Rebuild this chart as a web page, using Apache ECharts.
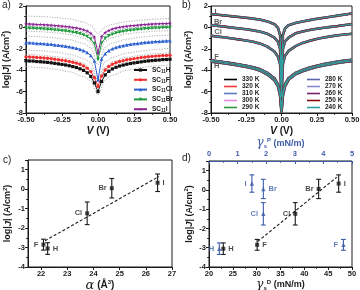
<!DOCTYPE html>
<html>
<head>
<meta charset="utf-8">
<script src="https://cdn.jsdelivr.net/npm/echarts@6/dist/echarts.min.js"></script>
<style>
html, body { margin: 0; padding: 0; background: #fff; }
#main { width: 360px; height: 290px; }
</style>
</head>
<body>
<div id="main"></div>
<script>
// a) mean log|J| of the SC11X junctions against bias
var biasA = [-0.5, -0.475, -0.45, -0.425, -0.4, -0.375, -0.35, -0.325, -0.3, -0.275, -0.25, -0.225, -0.2, -0.175, -0.15, -0.125, -0.1, -0.075, -0.05, -0.025, 0,
  0.025, 0.05, 0.075, 0.1, 0.125, 0.15, 0.175, 0.2, 0.225, 0.25, 0.275, 0.3, 0.325, 0.35, 0.375, 0.4, 0.425, 0.45, 0.475, 0.5];
var jA_H = [-3.12, -3.14, -3.15, -3.19, -3.21, -3.24, -3.27, -3.31, -3.36, -3.41, -3.46, -3.51, -3.58, -3.66, -3.75, -3.87, -4.02, -4.24, -4.58, -5.19, -6.0,
  -5.05, -4.44, -4.10, -3.88, -3.73, -3.61, -3.52, -3.44, -3.37, -3.32, -3.27, -3.22, -3.17, -3.13, -3.10, -3.07, -3.05, -3.01, -3.00, -2.98];
var jA_F = [-2.75, -2.77, -2.78, -2.81, -2.83, -2.86, -2.89, -2.93, -2.97, -3.02, -3.07, -3.12, -3.18, -3.26, -3.34, -3.45, -3.60, -3.81, -4.13, -4.70, -5.5,
  -4.55, -3.98, -3.66, -3.45, -3.30, -3.19, -3.11, -3.03, -2.97, -2.92, -2.87, -2.82, -2.78, -2.74, -2.71, -2.68, -2.66, -2.63, -2.62, -2.60];
var jA_Cl = [-1.43, -1.44, -1.46, -1.49, -1.50, -1.53, -1.56, -1.58, -1.63, -1.67, -1.71, -1.75, -1.81, -1.88, -1.95, -2.05, -2.17, -2.35, -2.63, -3.14, -4.9,
  -2.96, -2.45, -2.17, -1.99, -1.87, -1.77, -1.70, -1.63, -1.57, -1.53, -1.49, -1.45, -1.40, -1.38, -1.35, -1.32, -1.31, -1.28, -1.26, -1.25];
var jA_Br = [-0.07, -0.08, -0.09, -0.12, -0.13, -0.15, -0.18, -0.20, -0.24, -0.27, -0.31, -0.35, -0.39, -0.45, -0.51, -0.60, -0.71, -0.86, -1.10, -1.53, -3.0,
  -1.46, -1.03, -0.79, -0.64, -0.53, -0.44, -0.38, -0.32, -0.28, -0.24, -0.20, -0.17, -0.13, -0.11, -0.08, -0.06, -0.05, -0.02, -0.01, 0.0];
var jA_I = [0.32, 0.31, 0.30, 0.28, 0.27, 0.25, 0.23, 0.21, 0.18, 0.15, 0.12, 0.09, 0.05, 0.00, -0.05, -0.12, -0.21, -0.34, -0.54, -0.90, -2.4,
  -0.84, -0.48, -0.28, -0.15, -0.06, 0.01, 0.06, 0.11, 0.15, 0.18, 0.21, 0.24, 0.27, 0.29, 0.31, 0.33, 0.34, 0.36, 0.37, 0.38];

// a) dotted spread lines
var biasSd = [-0.5, -0.4, -0.3, -0.2, -0.1, -0.05, 0, 0.05, 0.1, 0.2, 0.3, 0.4, 0.5];
var sdLines = [
  [1.08, 1.02, 0.93, 0.8, 0.5, 0.2, -0.6, 0.05, 0.3, 0.55, 0.68, 0.78, 0.85],
  [0.12, 0.07, 0.0, -0.12, -0.42, -0.75, -1.8, -0.7, -0.38, -0.1, 0.03, 0.1, 0.15],
  [-0.34, -0.4, -0.5, -0.65, -1.0, -1.35, -2.6, -1.3, -0.95, -0.6, -0.45, -0.35, -0.3],
  [-0.8, -0.87, -0.98, -1.15, -1.5, -1.9, -3.5, -1.85, -1.45, -1.1, -0.9, -0.78, -0.7],
  [-2.1, -2.18, -2.3, -2.5, -2.9, -3.3, -5.0, -3.2, -2.8, -2.4, -2.2, -2.05, -1.95],
  [-2.5, -2.58, -2.72, -2.92, -3.35, -3.85, -5.0, -3.7, -3.2, -2.8, -2.6, -2.45, -2.35],
  [-3.65, -3.75, -3.9, -4.15, -4.6, -5.0, -6.3, -4.9, -4.45, -4.0, -3.75, -3.6, -3.5]
];

// b) log|J| at each temperature (curves overlap within a group)
var biasB = [-0.5, -0.45, -0.4, -0.35, -0.3, -0.25, -0.2, -0.15, -0.1, -0.05, -0.025, -0.01, 0, 0.01, 0.025, 0.05, 0.1, 0.15, 0.2, 0.25, 0.3, 0.35, 0.4, 0.45, 0.5];
var jB_I = [1.25, 1.18, 1.11, 1.04, 0.97, 0.9, 0.82, 0.72, 0.56, 0.3, -0.05, -0.7, -4.5, -0.7, -0.1, 0.2, 0.42, 0.56, 0.68, 0.8, 0.9, 1.0, 1.1, 1.2, 1.3];
var jB_Br = [0.22, 0.14, 0.06, -0.02, -0.1, -0.18, -0.28, -0.4, -0.6, -0.95, -1.35, -2.0, -5.5, -2.0, -1.3, -0.95, -0.55, -0.38, -0.24, -0.13, -0.04, 0.05, 0.13, 0.22, 0.31];
var jB_Cl = [-0.78, -0.86, -0.94, -1.03, -1.13, -1.23, -1.35, -1.52, -1.8, -2.25, -2.75, -3.4, -6.5, -3.4, -2.65, -2.2, -1.75, -1.45, -1.25, -1.08, -0.95, -0.84, -0.74, -0.66, -0.6];
var jB_F = [-3.08, -3.16, -3.25, -3.35, -3.46, -3.58, -3.72, -3.92, -4.25, -4.75, -5.3, -6.1, -7.8, -6.1, -5.3, -4.75, -4.25, -3.97, -3.75, -3.58, -3.43, -3.31, -3.2, -3.1, -3.02];
var jB_H = [-3.2, -3.28, -3.37, -3.47, -3.58, -3.7, -3.85, -4.05, -4.4, -4.95, -5.5, -6.4, -8.0, -6.4, -5.5, -4.9, -4.38, -4.1, -3.88, -3.7, -3.55, -3.43, -3.32, -3.22, -3.14];
var temps = ['330 K', '320 K', '310 K', '300 K', '290 K', '280 K', '270 K', '260 K', '250 K', '240 K'];
var groupTags = ['I', 'Br', 'Cl', 'F', 'H'];
var tagBias = [-0.468, -0.45, -0.45, -0.46, -0.46];
var tagLogJ = [1.42, 0.47, -0.44, -2.78, -3.62];

// c), d) log|J| against polarizability and surface energy components
var halides = ['H', 'F', 'Cl', 'Br', 'I'];
var alpha = [22.25, 22.09, 23.76, 24.7, 26.45];
var logJmean = [-3.05, -2.85, -1.24, 0.05, 0.33];
var logJerr = [0.3, 0.28, 0.58, 0.5, 0.45];
var gammaD = [23.0, 30.1, 38.1, 43.0, 47.2];
var gammaP = [0.36, 4.7, 1.9, 1.9, 1.5];
var fitC = [[22.15, -2.65], [26.5, 0.65]];
var fitD = [[30.2, -2.68], [46.8, 0.66]];

var ink = '#1a1a1a';
var blue = '#3d5ca8';
var font = 'Liberation Sans, Arial, sans-serif';

function pairs(xs, ys) {
  return xs.map(function (x, i) { return [x, ys[i]]; });
}
function txt(size, extra) {
  var s = { fontFamily: font, fontWeight: 'bold', fontSize: size, color: ink };
  for (var k in extra) s[k] = extra[k];
  return s;
}
function nameStyle(color, size) {
  size = size || 9;
  return txt(size, {
    color: color, lineHeight: size + 3,
    rich: {
      i: txt(size + 0.5, { color: color, fontStyle: 'italic' }),
      a: txt(size + 3, { color: color, fontStyle: 'italic', fontFamily: 'DejaVu Serif, serif', fontWeight: 'normal' }),
      sup: txt(6, { color: color, lineHeight: 6, verticalAlign: 'top' }),
      sub: txt(6, { color: color, lineHeight: 6, verticalAlign: 'bottom' })
    }
  });
}
function axis(grid, opts, color) {
  color = color || ink;
  var a = {
    type: 'value', gridIndex: grid, splitLine: { show: false },
    axisLine: { show: true, onZero: false, lineStyle: { color: color, width: 1 } },
    axisTick: { show: true, length: 3, lineStyle: { color: color } },
    minorTick: { show: true, splitNumber: 2, length: 1.8, lineStyle: { color: color } },
    axisLabel: txt(7.5, { color: color, margin: 3 }),
    nameLocation: 'middle',
    nameTextStyle: nameStyle(color, opts.nameSize)
  };
  for (var k in opts) {
    if (k === 'nameSize') continue;
    if (a[k] && typeof a[k] === 'object' && !Array.isArray(a[k])) {
      for (var j in opts[k]) a[k][j] = opts[k][j];
    } else a[k] = opts[k];
  }
  return a;
}

var grids = [
  { left: 26, top: 6, width: 144, height: 107 },
  { left: 211, top: 6, width: 141, height: 107 },
  { left: 28, top: 160, width: 144, height: 107 },
  { left: 209, top: 161, width: 143, height: 106 }
].map(function (g) {
  g.show = true; g.borderColor = ink; g.borderWidth = 1; g.backgroundColor = 'transparent';
  g.containLabel = false; g.outerBoundsMode = 'none';
  return g;
});

var logJName = 'log|{i|J}| (A/cm{sup|2})';
var biasLabel = { formatter: function (v) { return v.toFixed(2); } };

var xAxes = [
  axis(0, { min: -0.5, max: 0.5, interval: 0.25, axisLabel: biasLabel, name: '{i|V} (V)', nameGap: 9, nameSize: 10 }),
  axis(1, { min: -0.5, max: 0.5, interval: 0.25, axisLabel: biasLabel, name: '{i|V} (V)', nameGap: 9, nameSize: 10 }),
  axis(2, { min: 21.5, max: 27, axisLabel: { customValues: [22, 23, 24, 25, 26, 27] },
    axisTick: { customValues: [22, 23, 24, 25, 26, 27] }, minorTick: { show: false },
    name: '{a|α} (Å{sup|3})', nameGap: 7, nameSize: 10 }),
  axis(3, { min: 20, max: 50, interval: 5, name: '{a|γ}{sub|s}{sup|D} (mN/m)', nameGap: 7 }),
  axis(3, { position: 'top', min: 0, max: 5, interval: 1, name: '{a|γ}{sub|s}{sup|P} (mN/m)', nameGap: 8,
    axisTick: { inside: true }, minorTick: { show: true } }, blue)
];
var yAxes = [
  axis(0, { min: -8, max: 2, interval: 2, name: logJName, nameGap: 12 }),
  axis(1, { min: -8, max: 2, interval: 2, name: logJName, nameGap: 16 }),
  axis(2, { min: -4, max: 1.5, interval: 1, axisLabel: { showMaxLabel: false }, name: logJName, nameGap: 14 }),
  axis(3, { min: -4, max: 1.5, interval: 1, axisLabel: { showMaxLabel: false }, name: logJName, nameGap: 11 })
];

var series = [];

// a) spread lines under the means
sdLines.forEach(function (ys) {
  series.push({
    type: 'line', xAxisIndex: 0, yAxisIndex: 0, data: pairs(biasSd, ys), symbol: 'none',
    smooth: 0.3, smoothMonotone: 'x', silent: true,
    lineStyle: { color: '#9a9a9a', width: 0.8, type: [1.2, 1.4] }
  });
});
var starPath = 'path://M5,0 L6.2,3.6 L10,3.6 L7,5.9 L8.1,9.5 L5,7.3 L1.9,9.5 L3,5.9 L0,3.6 L3.8,3.6 Z';
[
  { name: 'SC11H', ys: jA_H, color: '#111111', symbol: 'rect', size: 3.2 },
  { name: 'SC11F', ys: jA_F, color: '#f03030', symbol: 'circle', size: 3.4 },
  { name: 'SC11Cl', ys: jA_Cl, color: '#2c5fd0', symbol: 'triangle', size: 3.6 },
  { name: 'SC11Br', ys: jA_Br, color: '#1f9a3c', symbol: 'triangle', rotate: 180, size: 3.6 },
  { name: 'SC11I', ys: jA_I, color: '#8a2494', symbol: starPath, size: 4 }
].forEach(function (s) {
  series.push({
    type: 'line', name: s.name, xAxisIndex: 0, yAxisIndex: 0, data: pairs(biasA, s.ys),
    symbol: s.symbol, symbolSize: s.size, symbolRotate: s.rotate || 0, showAllSymbol: true,
    lineStyle: { color: s.color, width: 1 }, itemStyle: { color: s.color }
  });
});

// b) one line per temperature and halide group; later temperatures sit on top
var tempColors = ['#000000', '#f03a3a', '#5b7cc0', '#e58ae0', '#2e9a3e', '#5a64ae', '#8a8ad0', '#74246e', '#8a1010', '#2f9fa2'];
var tempWidths = [2.6, 1.8, 1.8, 1.8, 1.8, 1.8, 1.8, 1.8, 1.8, 1.2];
var groupsB = [jB_I, jB_Br, jB_Cl, jB_F, jB_H];
temps.forEach(function (t, k) {
  groupsB.forEach(function (ys) {
    series.push({
      type: 'line', name: t, xAxisIndex: 1, yAxisIndex: 1, data: pairs(biasB, ys), symbol: 'none',
      lineStyle: { color: tempColors[k], width: tempWidths[k] }, itemStyle: { color: tempColors[k] }
    });
  });
});
series.push({
  type: 'scatter', xAxisIndex: 1, yAxisIndex: 1, symbolSize: 0, silent: true,
  data: groupTags.map(function (n, i) { return { name: n, value: [tagBias[i], tagLogJ[i]] }; }),
  label: { show: true, position: 'inside', formatter: '{b}', fontFamily: font, fontWeight: 'bold', fontSize: 7.5, color: '#333' }
});

// c), d) error bars, means and dashed fits
function errorBars(color) {
  return function (params, api) {
    var x = api.value(0);
    var lo = api.coord([x, api.value(1)]);
    var hi = api.coord([x, api.value(2)]);
    var cap = 2.4;
    var st = { stroke: color, lineWidth: 1.1 };
    return {
      type: 'group', children: [
        { type: 'line', shape: { x1: lo[0], y1: lo[1], x2: hi[0], y2: hi[1] }, style: st },
        { type: 'line', shape: { x1: lo[0] - cap, y1: lo[1], x2: lo[0] + cap, y2: lo[1] }, style: st },
        { type: 'line', shape: { x1: hi[0] - cap, y1: hi[1], x2: hi[0] + cap, y2: hi[1] }, style: st }
      ]
    };
  };
}
function barData(xs) {
  return xs.map(function (x, i) { return [x, logJmean[i] - logJerr[i], logJmean[i] + logJerr[i]]; });
}
function pointData(xs, sides) {
  return xs.map(function (x, i) {
    return { name: halides[i], value: [x, logJmean[i]], label: { position: sides[i] } };
  });
}
function pointSeries(xi, yi, xs, sides, color, symbol, size) {
  return {
    type: 'scatter', xAxisIndex: xi, yAxisIndex: yi, data: pointData(xs, sides),
    symbol: symbol, symbolSize: size, itemStyle: { color: color },
    label: { show: true, formatter: '{b}', distance: 3, fontFamily: font, fontWeight: 'bold', fontSize: 7.5, color: color }
  };
}
function fitSeries(xi, yi, pts) {
  return {
    type: 'line', xAxisIndex: xi, yAxisIndex: yi, data: pts, symbol: 'none', silent: true,
    lineStyle: { color: ink, width: 1.1, type: [3, 2] }
  };
}

series.push(fitSeries(2, 2, fitC));
series.push({ type: 'custom', xAxisIndex: 2, yAxisIndex: 2, data: barData(alpha), encode: { x: 0, y: [1, 2] }, renderItem: errorBars(ink), silent: true });
series.push(pointSeries(2, 2, alpha, ['right', 'left', 'left', 'left', 'right'], ink, 'rect', 4));

series.push(fitSeries(3, 3, fitD));
series.push({ type: 'custom', xAxisIndex: 3, yAxisIndex: 3, data: barData(gammaD), encode: { x: 0, y: [1, 2] }, renderItem: errorBars(ink), silent: true });
series.push(pointSeries(3, 3, gammaD, ['right', 'right', 'left', 'left', 'right'], ink, 'rect', 4));
series.push({ type: 'custom', xAxisIndex: 4, yAxisIndex: 3, data: barData(gammaP), encode: { x: 0, y: [1, 2] }, renderItem: errorBars(blue), silent: true });
series.push(pointSeries(4, 3, gammaP, ['left', 'left', 'left', 'right', 'left'], blue, 'triangle', 4.5));

var legendText = txt(6.5, {
  lineHeight: 8,
  rich: { s: txt(4.5, { lineHeight: 5, verticalAlign: 'bottom' }) }
});
var tempLegend = {
  orient: 'vertical', top: 76, itemWidth: 13, itemHeight: 1.6, icon: 'rect',
  itemGap: 0, padding: 0, selectedMode: false, textStyle: txt(6.5, { lineHeight: 7 })
};

var option = {
  animation: false,
  backgroundColor: '#ffffff',
  title: [
    { text: 'a)', left: 2, top: 0 },
    { text: 'b)', left: 182, top: 0 },
    { text: 'c)', left: 3, top: 155 },
    { text: 'd)', left: 182, top: 153 }
  ].map(function (t) {
    t.textStyle = { fontFamily: font, fontWeight: 'normal', fontSize: 10, color: ink };
    t.padding = 0;
    return t;
  }),
  grid: grids,
  xAxis: xAxes,
  yAxis: yAxes,
  legend: [
    {
      data: ['SC11H', 'SC11F', 'SC11Cl', 'SC11Br', 'SC11I'], orient: 'vertical', left: 133, top: 66,
      itemWidth: 13, itemHeight: 4, itemGap: 1.8, padding: 0, selectedMode: false,
      formatter: function (n) { return 'SC{s|11}' + n.slice(4); }, textStyle: legendText
    },
    Object.assign({ data: temps.slice(0, 5), left: 224 }, tempLegend),
    Object.assign({ data: temps.slice(5), left: 307 }, tempLegend)
  ],
  series: series
};

var chart = echarts.init(document.getElementById('main'), null, { renderer: 'canvas' });
chart.setOption(option);
</script>
</body>
</html>
